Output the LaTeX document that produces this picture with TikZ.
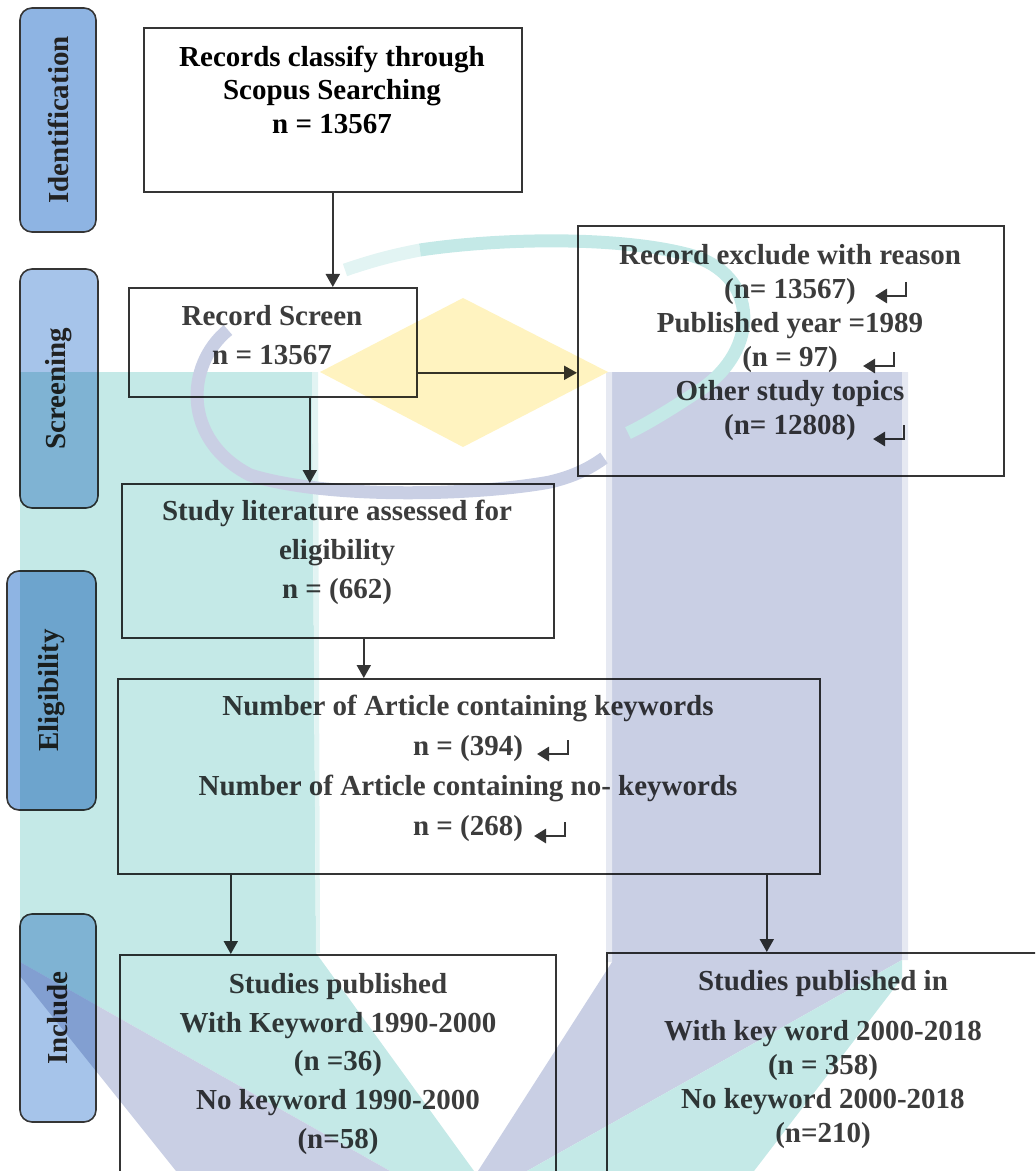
\documentclass[tikz,border=0pt]{standalone}
\usepackage{fontspec}
\setmainfont{Liberation Serif}
\usetikzlibrary{arrows.meta}

\definecolor{stageblue}{HTML}{8EB4E3}
\definecolor{stagelight}{HTML}{A6C4EA}
\definecolor{linegray}{HTML}{353535}
\definecolor{textgray}{HTML}{3C3C3C}
\definecolor{stagetext}{HTML}{222222}
\definecolor{wmteal}{HTML}{C4E9E7}
\definecolor{wmtealsoft}{HTML}{E2F4F3}
\definecolor{wmblue}{HTML}{C9CFE4}
\definecolor{wmbluesoft}{HTML}{E6E9F2}
\definecolor{wmyellow}{HTML}{FFF3C0}

\tikzset{
	stage/.style={draw=linegray, line width=0.8pt, rounded corners=6pt, rotate=90, inner sep=0pt,
		text=stagetext, font=\bfseries\fontsize{14.5}{17}\selectfont},
	box/.style={draw=linegray, line width=0.8pt, anchor=north west, inner sep=0pt},
	txt/.style={align=center, inner sep=0pt, text=textgray, font=\bfseries\fontsize{14.5}{19.5}\selectfont},
	flow/.style={draw=linegray, line width=1pt, -{Triangle[length=6.5pt,width=7pt]}},
	retmark/.pic={\draw[linegray, line width=1.4pt, -{Triangle[length=6pt,width=7pt]}] (0,0) -- (0,14) -- (-31,14);},
	swoosh/.style={line width=6.5pt}
}

\begin{document}
\begin{tikzpicture}[x=0.5pt, y=-0.5pt]
		\useasboundingbox (0,0) rectangle (1035,1171);
		\clip (0,0) rectangle (1035,1171);

		\node[stage, fill=stageblue, minimum width=112pt, minimum height=38pt] (ident) at (58,120) {Identification};
		\node[stage, fill=stagelight, minimum width=119.5pt, minimum height=39pt] (scrn) at (59,388.5) {Screening};
		\node[stage, fill=stageblue, minimum width=119.5pt, minimum height=44.5pt] (elig) at (51.5,690.5) {Eligibility};
		\node[stage, fill=stagelight, minimum width=104pt, minimum height=38pt] (incl) at (58,1018) {Include};

		\node[box, minimum width=189pt, minimum height=82pt] (rec) at (143,27) {};
		\node[box, minimum width=144pt, minimum height=54.5pt] (screen) at (128,287) {};
		\node[box, minimum width=213pt, minimum height=125pt] (excl) at (577,225) {};
		\node[box, minimum width=216pt, minimum height=77pt] (study) at (121,483) {};
		\node[box, minimum width=351pt, minimum height=97.5pt] (kw) at (117,678) {};
		\node[box, minimum width=218pt, minimum height=124pt] (early) at (119,954) {};
		\node[box, minimum width=220pt, minimum height=124pt] (late) at (606,952) {};

		\node[txt, text=black, font=\bfseries\fontsize{14.5}{16.75}\selectfont] (rectxt) at (332,89.5)
			{Records classify through\\Scopus Searching\\n = 13567};
		\node[txt] (screentxt) at (272,335.5) {Record Screen\\n = 13567};
		\node[txt, font=\bfseries\fontsize{14.5}{17}\selectfont] (excltxt) at (790,343)
			{Record exclude with reason\\(n= 13567)\\Published year =1989\\(n = 97)\\Other study topics\\(n= 12808)};
		\node[txt] (studytxt) at (337,552) {Study literature assessed for\\eligibility\\n = (662)};
		\node[txt, font=\bfseries\fontsize{14.5}{20}\selectfont] (kwtxt) at (468,768)
			{Number of Article containing keywords\\n = (394)\\Number of Article containing no- keywords\\n = (268)};
		\node[txt, font=\bfseries\fontsize{14.5}{19.4}\selectfont] (earlytxt) at (338,1064)
			{Studies published\\With Keyword 1990-2000\\(n =36)\\No keyword 1990-2000\\(n=58)};
		\node[txt, font=\bfseries\fontsize{14.5}{17}\selectfont] (latetxt) at (823,1060)
			{Studies published in\\[8pt]With key word 2000-2018\\(n = 358)\\No keyword 2000-2018\\(n=210)};

		\pic at (906,282) {retmark};
		\pic at (894,352) {retmark};
		\pic at (904,425) {retmark};
		\pic at (568,740) {retmark};
		\pic at (565,822) {retmark};

		\draw[flow] (rec.south) -- (rec.south |- screen.north);
		\draw[flow] ([yshift=-15.25pt]screen.east) -- ([yshift=-15.25pt]screen.east -| excl.west);
		\draw[flow] ([xshift=18.5pt]screen.south) -- ([xshift=18.5pt]screen.south |- study.north);
		\draw[flow] ([xshift=13pt]study.south) -- ([xshift=13pt]study.south |- kw.north);
		\draw[flow] ([xshift=-53.5pt]early.north |- kw.south) -- ([xshift=-53.5pt]early.north);
		\draw[flow] ([xshift=-30pt]late.north |- kw.south) -- ([xshift=-30pt]late.north);

		% watermark
		\begin{scope}[blend mode=multiply]
		\begin{scope}[transparency group]
		\begin{scope}[blend mode=normal]
			\fill[wmteal] (20,372) -- (312,372) -- (316,953) -- (474,1171) -- (390,1171) -- (20,962) -- cycle;
			\fill[wmtealsoft] (312,372) -- (318,372) -- (320,953) -- (316,953) -- cycle;
			\fill[wmblue] (20,962) -- (390,1171) -- (176,1171) -- (20,976) -- cycle;
			\fill[wmblue] (612,372) -- (902,372) -- (902,960) -- (527,1171) -- (478,1171) -- (612,962) -- cycle;
			\fill[wmbluesoft] (606,372) -- (612,372) -- (612,962) -- (606,962) -- cycle;
			\fill[wmbluesoft] (902,372) -- (908,372) -- (908,960) -- (902,960) -- cycle;
			\fill[wmteal] (902,960) -- (527,1171) -- (754,1171) -- (902,978) -- cycle;
			\fill[wmyellow] (463,298) -- (608,372) -- (463,447) -- (320,372) -- cycle;
			\draw[swoosh, wmtealsoft] (345,270) .. controls (380,258) and (400,254) .. (420,250);
			\draw[swoosh, wmteal] (420,250) .. controls (500,238) and (620,236) .. (690,255)
				.. controls (760,275) and (760,350) .. (700,390) .. controls (670,410) and (645,425) .. (628,433);
			\draw[swoosh, wmblue] (228,330) .. controls (185,365) and (182,440) .. (250,475)
				.. controls (330,500) and (480,495) .. (550,482) .. controls (575,476) and (590,468) .. (604,458);
		\end{scope}
		\end{scope}
		\end{scope}
\end{tikzpicture}
\end{document}
